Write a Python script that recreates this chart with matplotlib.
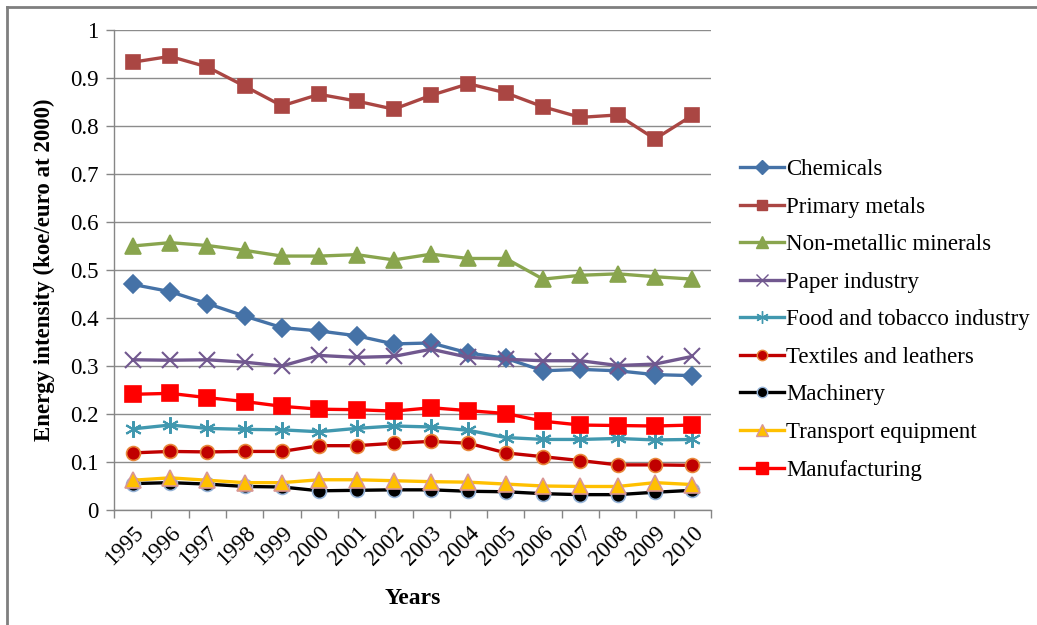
import numpy as np
import matplotlib.pyplot as plt
from matplotlib.lines import Line2D

plt.rcParams['font.family'] = ['Liberation Serif', 'DejaVu Serif']

years = [str(y) for y in range(1995, 2011)]

chemicals = [0.470, 0.455, 0.430, 0.404, 0.380, 0.373, 0.363, 0.346, 0.348, 0.327, 0.316, 0.290, 0.293, 0.290, 0.282, 0.280]
primary_metals = [0.933, 0.945, 0.923, 0.883, 0.842, 0.866, 0.852, 0.835, 0.864, 0.888, 0.869, 0.840, 0.818, 0.823, 0.773, 0.822]
non_metallic = [0.550, 0.557, 0.551, 0.541, 0.529, 0.529, 0.532, 0.521, 0.533, 0.524, 0.524, 0.481, 0.489, 0.492, 0.486, 0.481]
paper = [0.313, 0.312, 0.313, 0.308, 0.300, 0.322, 0.318, 0.320, 0.335, 0.318, 0.314, 0.311, 0.311, 0.301, 0.304, 0.320]
food = [0.169, 0.177, 0.170, 0.168, 0.167, 0.163, 0.170, 0.175, 0.173, 0.166, 0.151, 0.147, 0.147, 0.149, 0.146, 0.147]
textiles = [0.119, 0.122, 0.121, 0.122, 0.122, 0.134, 0.134, 0.139, 0.143, 0.139, 0.119, 0.111, 0.103, 0.094, 0.094, 0.093]
machinery = [0.055, 0.057, 0.054, 0.049, 0.048, 0.040, 0.041, 0.042, 0.042, 0.039, 0.038, 0.034, 0.032, 0.032, 0.037, 0.041]
transport = [0.062, 0.067, 0.062, 0.057, 0.057, 0.063, 0.063, 0.061, 0.059, 0.058, 0.054, 0.050, 0.049, 0.049, 0.057, 0.053]
manufacturing = [0.241, 0.243, 0.234, 0.226, 0.216, 0.210, 0.209, 0.206, 0.213, 0.207, 0.201, 0.185, 0.177, 0.176, 0.175, 0.177]

# label, values, line colour, marker, marker face, marker edge, marker size
series = [
    ('Chemicals', chemicals, '#4572A7', 'D', '#4572A7', '#4572A7', 9.5),
    ('Primary metals', primary_metals, '#AA4643', 's', '#AA4643', '#AA4643', 10),
    ('Non-metallic minerals', non_metallic, '#89A54E', '^', '#89A54E', '#89A54E', 11),
    ('Paper industry', paper, '#71588F', 'x', '#71588F', '#71588F', 11),
    ('Food and tobacco industry', food, '#4198AF', (6, 2, 0), '#4198AF', '#4198AF', 12),
    ('Textiles and leathers', textiles, '#C00000', 'o', '#C00000', '#E8873A', 10),
    ('Machinery', machinery, '#000000', 'o', '#000000', '#95B3D7', 10),
    ('Transport equipment', transport, '#FFC000', '^', '#FFC000', '#D99694', 11),
    ('Manufacturing', manufacturing, '#FF0000', 's', '#FF0000', '#FF0000', 11),
]

fs = 16.5

fig = plt.figure(figsize=(10.37, 6.25), dpi=100)
ax = fig.add_axes([0.110, 0.184, 0.5756, 0.768])

x = np.arange(len(years))
handles = []
for label, vals, col, mk, face, edge, ms in series:
    mew = 1.5 if mk in ('x', (6, 2, 0)) else 1.2
    ax.plot(x, vals, color=col, lw=2.4, marker=mk, markersize=ms,
            markerfacecolor=face, markeredgecolor=edge, markeredgewidth=mew,
            zorder=3)
    handles.append(Line2D([], [], color=col, lw=2.4, marker=mk, markersize=ms * 0.75,
                          markerfacecolor=face, markeredgecolor=edge,
                          markeredgewidth=1.0))

ax.set_xlim(-0.5, len(years) - 0.5)
ax.set_ylim(0, 1)
ax.set_yticks(np.arange(0, 1.01, 0.1))
ax.set_yticklabels(['0'] + ['%.1f' % v for v in np.arange(0.1, 1.0, 0.1)] + ['1'])
ax.set_xticks(x)
ax.set_xticklabels(years, rotation=45, ha='right', va='top', rotation_mode='anchor')
ax.set_xticks(np.arange(-0.5, len(years)), minor=True)
ax.tick_params(axis='x', which='major', length=0, pad=9, labelsize=fs)
ax.tick_params(axis='x', which='minor', length=6, color='#868686', width=1)
ax.tick_params(axis='y', length=6, color='#868686', width=1, pad=5, labelsize=fs)

ax.grid(axis='y', color='#8C8C8C', lw=1)
ax.set_axisbelow(True)
for s in ('top', 'right'):
    ax.spines[s].set_visible(False)
for s in ('left', 'bottom'):
    ax.spines[s].set_color('#868686')
    ax.spines[s].set_linewidth(1)

ax.set_ylabel('Energy intensity (koe/euro at 2000)', fontsize=16.5, fontweight='bold', labelpad=11)
ax.set_xlabel('Years', fontsize=17, fontweight='bold', labelpad=13)

fig.legend(handles, [s[0] for s in series], loc='upper left',
           bbox_to_anchor=(0.705, 0.760), frameon=False, fontsize=fs,
           handlelength=1.9, handletextpad=0.1, labelspacing=0.72,
           borderaxespad=0)

# outer frame, only the top and left edges fall inside the image
fig.add_artist(Line2D([0.0072, 0.0072], [0, 0.989], color='#7F7F7F', lw=2,
                      transform=fig.transFigure))
fig.add_artist(Line2D([0.0072, 1], [0.989, 0.989], color='#7F7F7F', lw=2,
                      transform=fig.transFigure))

fig.savefig('out.png', dpi=100)
